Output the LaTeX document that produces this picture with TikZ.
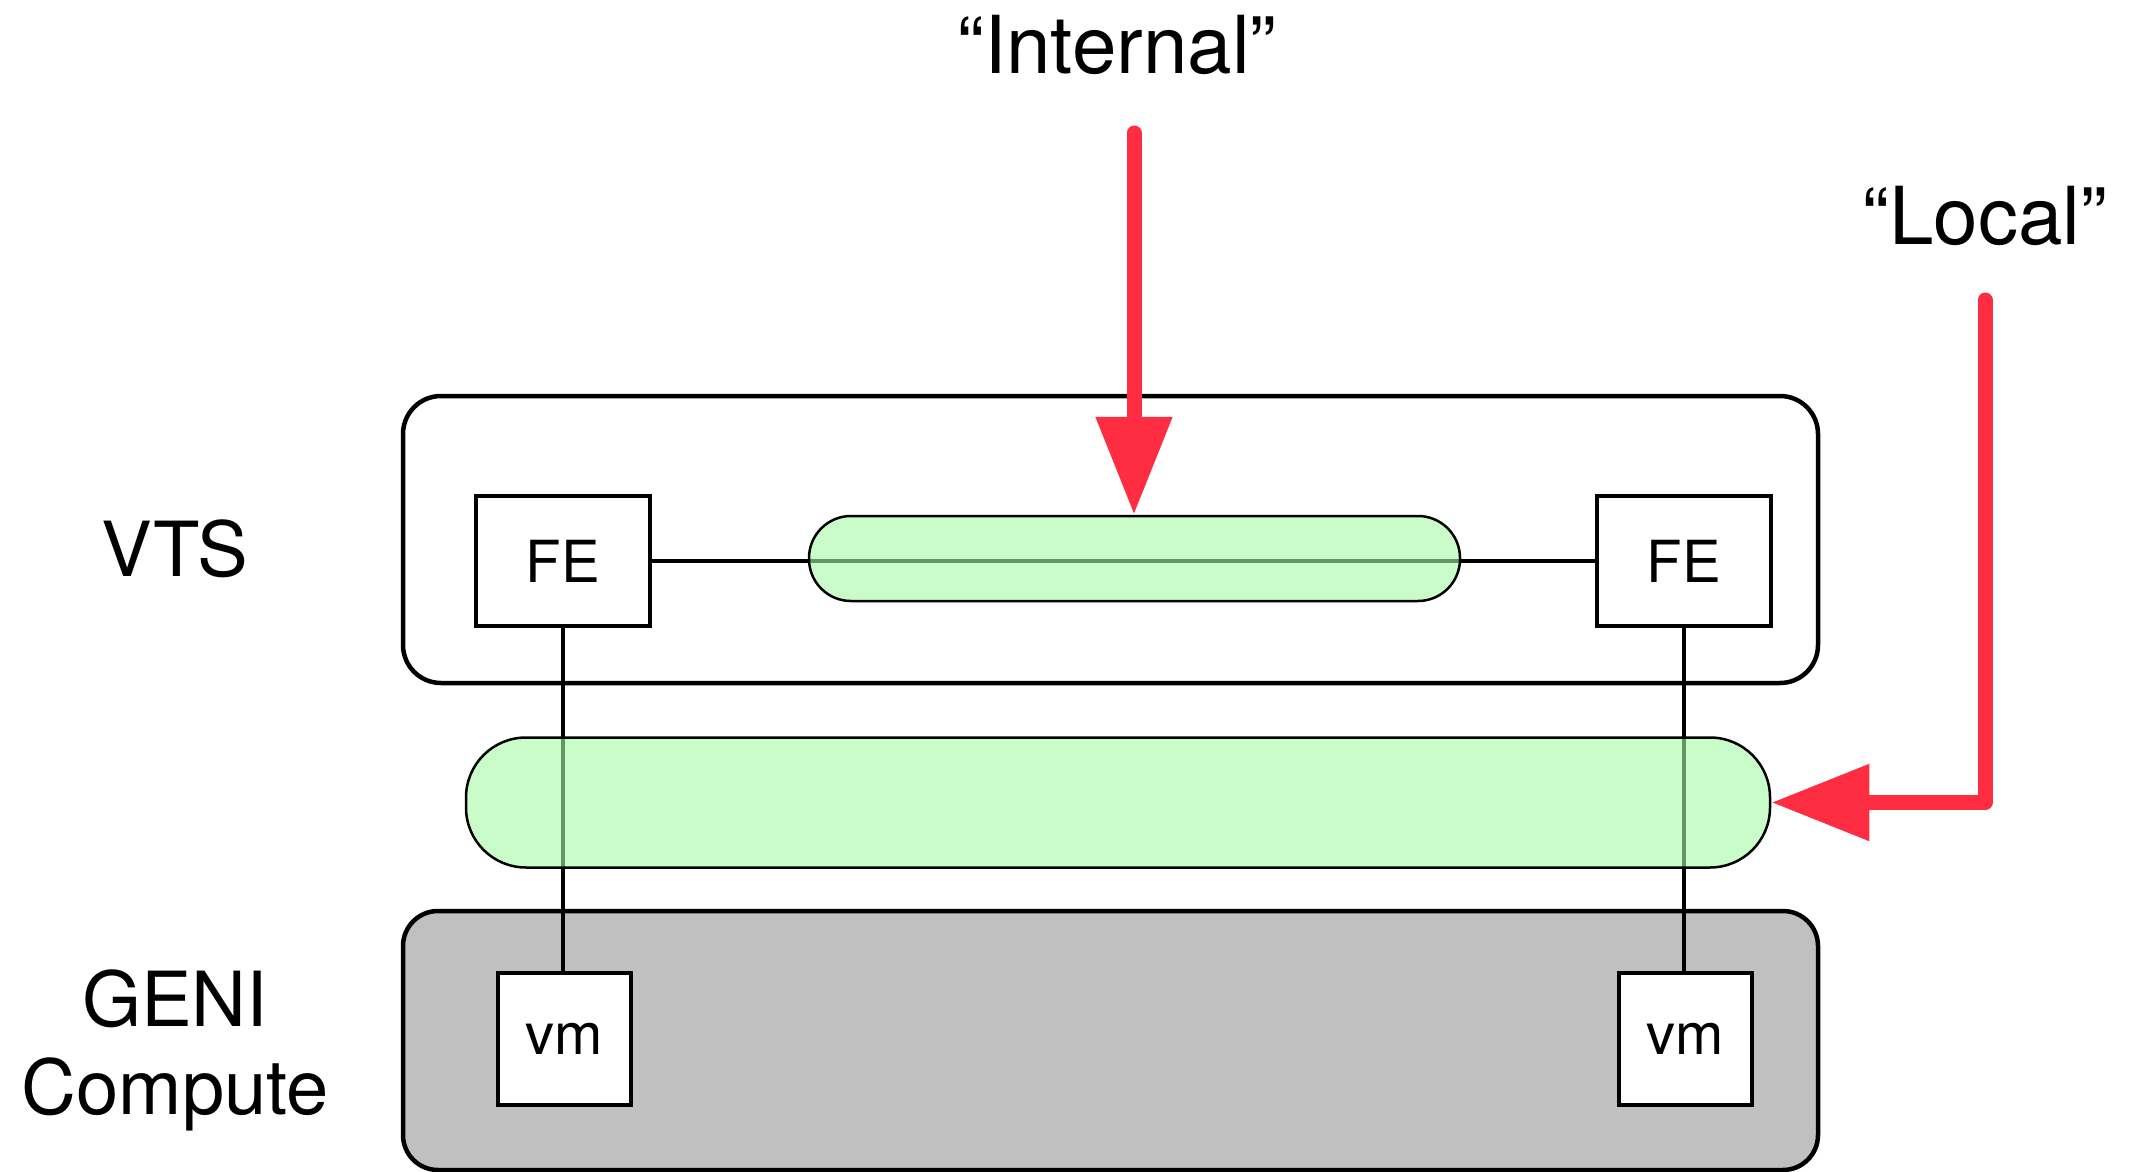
\documentclass[tikz,border=0pt]{standalone}
\usepackage{fontspec}
\setmainfont{TeX Gyre Heros}
\usetikzlibrary{arrows.meta}
\pgfdeclarelayer{groups}
\pgfdeclarelayer{wires}
\pgfsetlayers{groups,wires,main}
\definecolor{pillgreen}{RGB}{167,250,167}
\definecolor{arrowred}{RGB}{255,45,65}
\definecolor{hostgray}{RGB}{192,192,192}
\begin{document}
\begin{tikzpicture}[x=1pt,y=-1pt,
  group/.style={draw=black,line width=4.5pt,rounded corners=38pt,minimum width=1415pt,inner sep=0pt},
  fe/.style={draw=black,fill=white,line width=4pt,minimum width=174pt,minimum height=130pt,inner sep=0pt,font=\fontsize{58}{70}\selectfont},
  vmbox/.style={draw=black,fill=white,line width=4pt,minimum width=133pt,minimum height=132pt,inner sep=0pt,font=\fontsize{58}{70}\selectfont},
  pill/.style={draw=black,line width=2.5pt,fill=pillgreen,fill opacity=0.6,inner sep=0pt},
  wire/.style={draw=black,line width=3.5pt},
  callout/.style={draw=arrowred,line width=15pt,line cap=round,line join=round,-{Triangle[length=98pt,width=73pt]}},
  lbl/.style={font=\fontsize{76}{88}\selectfont,align=center,inner sep=0pt},
  quote/.style={font=\fontsize{80}{88}\selectfont,inner sep=0pt}]
\useasboundingbox (0,0) rectangle (2142,1172);
% groups
\begin{pgfonlayer}{groups}
\node[group,minimum height=287pt] (vts) at (1110.5,539.5) {};
\node[group,fill=hostgray,rounded corners=35pt,minimum height=259pt] (geni) at (1110.5,1040.5) {};
\end{pgfonlayer}
% boxes
\node[fe] (fe1) at (563,561) {FE};
\node[fe] (fe2) at (1684,561) {FE};
\node[vmbox] (vm1) at (564,1039) {vm};
\node[vmbox] (vm2) at (1685,1039) {vm};
% wires
\begin{pgfonlayer}{wires}
\draw[wire] (fe1.east) -- (fe2.west);
\draw[wire] (fe1.south) -- (fe1.south |- vm1.north);
\draw[wire] (fe2.south) -- (fe2.south |- vm2.north);
\end{pgfonlayer}
% pills
\node[pill,rounded corners=42pt,minimum width=651pt,minimum height=85pt] (internal) at (1134.5,558.5) {};
\node[pill,rounded corners=60pt,minimum width=1304pt,minimum height=130pt] (local) at (1118,802.5) {};
% labels
\node[lbl] (vtsl) at (175,549) {VTS};
\node[lbl] (genil) at (175,1050) {GENI\\Compute};
\node[quote] (intl) at (1117,45) {“Internal”};
\node[quote] (locl) at (1985,216) {“Local”};
% arrows
\coordinate (intstart) at (1134,133);
\coordinate (locstart) at (1985,300);
\draw[callout] (intstart) -- (internal.north -| intstart);
\draw[callout] (locstart) |- (local.east);
\end{tikzpicture}
\end{document}
